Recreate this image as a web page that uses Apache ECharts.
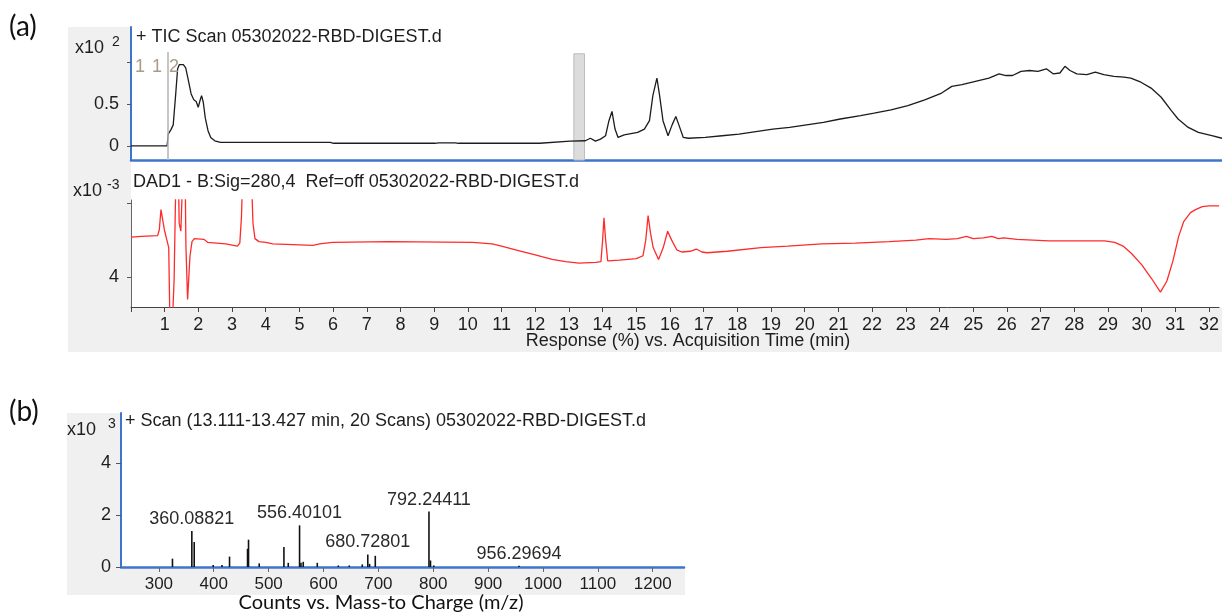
<!DOCTYPE html>
<html>
<head>
<meta charset="utf-8">
<script src="https://cdn.jsdelivr.net/npm/echarts@6/dist/echarts.min.js"></script>
<style>
  html, body { margin: 0; padding: 0; background: #ffffff; }
  #chart { width: 1222px; height: 613px; }
</style>
</head>
<body>
<div id="chart"></div>
<script>
// ---- TIC chromatogram (abundance, x10^2) ----
const ticTime = [0, 1.07, 1.10, 1.18, 1.25, 1.32, 1.38, 1.43, 1.48, 1.55, 1.62, 1.70, 1.78, 1.86, 1.93, 1.99, 2.05, 2.09, 2.14, 2.20, 2.28, 2.36, 2.48, 2.65,
  3.0, 5.9, 6.0, 9.0, 9.1, 9.6, 9.7, 12.1, 12.15, 13.0, 13.45, 13.6, 13.75, 13.9, 14.05, 14.15, 14.24, 14.33, 14.42, 14.6, 15.0, 15.2, 15.35, 15.45, 15.57,
  15.65, 15.75, 15.9, 16.02, 16.13, 16.22, 16.35, 16.5, 17.0, 17.5, 18.0, 18.5, 19.0, 19.5, 20.0, 20.5, 21.0, 21.6, 22.0, 22.5, 23.0, 23.5, 24.0, 24.3,
  24.6, 25.0, 25.4, 25.7, 25.9, 26.1, 26.35, 26.6, 26.85, 27.1, 27.3, 27.5, 27.65, 27.8, 28.0, 28.3, 28.55, 28.8, 29.1, 29.4, 29.6, 29.9, 30.2, 30.5,
  30.8, 31.0, 31.3, 31.6, 32.0, 32.3];
const ticAbund = [0, 0, 0.14, 0.19, 0.25, 0.60, 0.92, 0.97, 0.95, 0.97, 0.93, 0.78, 0.62, 0.55, 0.53, 0.46, 0.55, 0.60, 0.52, 0.33, 0.18, 0.10, 0.06, 0.04,
  0.04, 0.04, 0.03, 0.03, 0.035, 0.035, 0.03, 0.03, 0.05, 0.055, 0.06, 0.09, 0.055, 0.08, 0.12, 0.30, 0.41, 0.20, 0.10, 0.13, 0.16, 0.20, 0.30, 0.60, 0.81,
  0.60, 0.30, 0.12, 0.25, 0.35, 0.25, 0.10, 0.09, 0.10, 0.12, 0.14, 0.17, 0.20, 0.22, 0.25, 0.28, 0.32, 0.36, 0.39, 0.43, 0.48, 0.55, 0.63, 0.71,
  0.73, 0.77, 0.81, 0.86, 0.84, 0.84, 0.89, 0.90, 0.89, 0.92, 0.86, 0.87, 0.95, 0.90, 0.86, 0.85, 0.88, 0.85, 0.83, 0.82, 0.81, 0.76, 0.69, 0.58,
  0.42, 0.32, 0.22, 0.16, 0.12, 0.09];

// ---- DAD signal at 280 nm (x10^-3) ----
const dadTime = [0, 0.30, 0.79, 0.84, 0.89, 0.94, 0.99, 1.06, 1.12, 1.155, 1.23, 1.28, 1.33, 1.41, 1.43, 1.48, 1.53, 1.61, 1.63, 1.68, 1.75, 1.81, 1.88,
  2.17, 2.27, 2.81, 3.16, 3.23, 3.28, 3.31, 3.58, 3.62, 3.68, 3.80, 4.0, 4.21, 5.4, 5.6, 5.98, 7.67, 10.14, 10.72, 11.0, 11.5, 12.0, 12.5, 12.9, 13.3,
  13.8, 13.95, 14.0, 14.04, 14.09, 14.15, 14.5, 15.0, 15.2, 15.28, 15.35, 15.42, 15.5, 15.66, 15.8, 15.93, 16.05, 16.2, 16.35, 16.6, 16.78, 16.95, 17.1,
  17.7, 18.7, 19.5, 20.5, 21.5, 22.5, 23.3, 23.7, 24.2, 24.53, 24.8, 25.0, 25.3, 25.55, 25.75, 25.9, 26.3, 27.25, 28.0, 28.9, 29.2, 29.45, 29.7, 30.0,
  30.3, 30.56, 30.75, 30.93, 31.1, 31.25, 31.45, 31.6, 31.8, 32.0, 32.3];
const dadAbs = [4.54, 4.55, 4.56, 4.64, 4.91, 4.89, 4.64, 4.51, 4.40, 3.40, 3.40, 3.97, 5.30, 5.30, 4.73, 4.62, 5.30, 5.30, 4.42, 3.70, 4.28, 4.48, 4.52,
  4.51, 4.47, 4.45, 4.42, 4.46, 4.82, 5.30, 5.30, 4.73, 4.52, 4.48, 4.47, 4.45, 4.43, 4.45, 4.47, 4.48, 4.47, 4.45, 4.42, 4.36, 4.30, 4.24, 4.21, 4.19,
  4.20, 4.21, 4.50, 4.80, 4.50, 4.22, 4.23, 4.25, 4.29, 4.50, 4.83, 4.60, 4.40, 4.24, 4.40, 4.62, 4.50, 4.37, 4.34, 4.35, 4.38, 4.34, 4.33,
  4.35, 4.40, 4.42, 4.45, 4.46, 4.48, 4.50, 4.52, 4.51, 4.52, 4.55, 4.52, 4.53, 4.55, 4.52, 4.53, 4.51, 4.49, 4.49, 4.49, 4.47, 4.42, 4.32, 4.17,
  3.98, 3.80, 3.95, 4.22, 4.55, 4.75, 4.87, 4.91, 4.95, 4.96, 4.96];

// ---- Mass spectrum, 13.111-13.427 min (counts, x10^3) ----
const specMz = [324.8, 360.08821, 364.4, 399.0, 415.0, 428.8, 461.6, 463.4, 482.9, 527.9, 535.8, 556.40101, 559.0, 563.1, 588.7, 627.0, 647.0,
  670.7, 680.72801, 684.0, 694.4, 792.24411, 795.0, 801.0, 956.29694];
const specCounts = [0.32, 1.38, 0.96, 0.08, 0.08, 0.40, 0.70, 1.05, 0.14, 0.77, 0.16, 1.60, 0.16, 0.20, 0.16, 0.06, 0.06,
  0.10, 0.48, 0.12, 0.43, 2.13, 0.25, 0.06, 0.05];
const labelledMz = [360.08821, 556.40101, 680.72801, 792.24411, 956.29694];

// ---- Axis ticks ----
const timeTicks = [0, 1, 2, 3, 4, 5, 6, 7, 8, 9, 10, 11, 12, 13, 14, 15, 16, 17, 18, 19, 20, 21, 22, 23, 24, 25, 26, 27, 28, 29, 30, 31, 32];
const ticTicks = [0, 0.5, 1];
const ticLabels = [0, 0.5];
const dadTicks = [4, 5];
const dadLabels = [4];
const mzTicks = [300, 400, 500, 600, 700, 800, 900, 1000, 1100, 1200];
const countTicks = [0, 2, 4];

const BLUE = '#3f74cc';
const SANS = "'Liberation Sans', Arial, sans-serif";
const CAP = "Lato, 'Open Sans', sans-serif";

const ticData = ticTime.map((t, i) => [t, ticAbund[i]]);
const dadData = dadTime.map((t, i) => [t, dadAbs[i]]);
const specData = specMz.map((m, i) => [m, specCounts[i]]);

// plain number text, no thousands separators
const plain = v => String(v);

function txt(x, y, text, size, opts) {
  opts = opts || {};
  return {
    type: 'text', x: x, y: y, z: 100, silent: true,
    style: {
      text: text,
      font: (opts.weight || 'normal') + ' ' + size + 'px ' + (opts.family || SANS),
      fill: opts.fill || '#1e1e1e',
      align: opts.align || 'left',
      verticalAlign: 'middle'
    }
  };
}
function rect(x, y, w, h, fill) {
  return { type: 'rect', z: -100, silent: true, shape: { x: x, y: y, width: w, height: h }, style: { fill: fill } };
}

const chart = echarts.init(document.getElementById('chart'), null, { renderer: 'canvas' });

chart.setOption({
  animation: false,
  backgroundColor: '#ffffff',
  grid: [
    { left: 131, right: 0, top: 27, height: 133 },
    { left: 131, right: 0, top: 200, height: 107 },
    { left: 121, top: 413, width: 563, height: 154 }
  ],
  xAxis: [
    {
      gridIndex: 0, type: 'value', min: 0, max: 32.3,
      axisLine: { onZero: false, lineStyle: { color: BLUE, width: 2.5 } },
      axisTick: { show: false }, axisLabel: { show: false }, splitLine: { show: false }
    },
    {
      gridIndex: 1, type: 'value', min: 0, max: 32.3,
      axisLine: { onZero: false, lineStyle: { color: '#444', width: 1 } },
      axisTick: { customValues: timeTicks, length: 5, lineStyle: { color: '#444' } },
      axisLabel: { customValues: timeTicks.slice(1), formatter: plain, fontSize: 18, fontFamily: SANS, color: '#1e1e1e', margin: 9 },
      splitLine: { show: false }
    },
    {
      gridIndex: 2, type: 'value', min: 231, max: 1257,
      axisLine: { onZero: false, lineStyle: { color: BLUE, width: 2.5 } },
      axisTick: { customValues: mzTicks, length: 5, lineStyle: { color: '#666' } },
      axisLabel: { customValues: mzTicks, formatter: plain, fontSize: 17, fontFamily: SANS, color: '#1e1e1e', margin: 9 },
      splitLine: { show: false }
    }
  ],
  yAxis: [
    {
      gridIndex: 0, type: 'value', min: -0.17, max: 1.42,
      axisLine: { show: true, onZero: false, lineStyle: { color: BLUE, width: 2 } },
      axisTick: { show: true, customValues: ticTicks, length: 4, lineStyle: { color: '#555' } },
      axisLabel: { customValues: ticLabels, formatter: plain, fontSize: 18, fontFamily: SANS, color: '#1e1e1e', margin: 12 },
      splitLine: { show: false }
    },
    {
      gridIndex: 1, type: 'value', min: 3.6, max: 5.04,
      axisLine: { show: true, onZero: false, lineStyle: { color: '#666', width: 1 } },
      axisTick: { show: true, customValues: dadTicks, length: 4, lineStyle: { color: '#555' } },
      axisLabel: { customValues: dadLabels, formatter: plain, fontSize: 18, fontFamily: SANS, color: '#1e1e1e', margin: 12 },
      splitLine: { show: false }
    },
    {
      gridIndex: 2, type: 'value', min: 0, max: 5.92,
      axisLine: { show: true, onZero: false, lineStyle: { color: BLUE, width: 2 } },
      axisTick: { show: true, customValues: countTicks, length: 5, lineStyle: { color: '#555' } },
      axisLabel: { customValues: countTicks, formatter: plain, fontSize: 18, fontFamily: SANS, color: '#1e1e1e', margin: 10 },
      splitLine: { show: false }
    }
  ],
  series: [
    {
      name: 'TIC', type: 'line', xAxisIndex: 0, yAxisIndex: 0, data: ticData,
      showSymbol: false, symbol: 'none', lineStyle: { color: '#1c1c1c', width: 1.3 },
      markArea: {
        silent: true,
        itemStyle: { color: '#dcdcdc', borderColor: '#bdbdbd', borderWidth: 1 },
        data: [[{ xAxis: 13.111, yAxis: -0.17 }, { xAxis: 13.427, yAxis: 1.1 }]]
      },
      markLine: {
        silent: true, symbol: ['none', 'none'], label: { show: false },
        lineStyle: { color: '#b3b3b3', width: 1.5, type: 'solid' },
        data: [[{ coord: [1.08, -0.17] }, { coord: [1.08, 1.12] }]]
      }
    },
    {
      name: 'DAD1', type: 'line', xAxisIndex: 1, yAxisIndex: 1, data: dadData,
      showSymbol: false, symbol: 'none', lineStyle: { color: '#ff2b2b', width: 1.3 }
    },
    {
      name: 'Scan', type: 'bar', xAxisIndex: 2, yAxisIndex: 2, data: specData,
      barWidth: 1.6, itemStyle: { color: '#111' },
      label: {
        show: true, position: 'top', distance: 3,
        fontSize: 18, fontFamily: SANS, color: '#2a2a2a',
        formatter: p => labelledMz.indexOf(p.value[0]) >= 0 ? p.value[0].toFixed(5) : ''
      }
    }
  ],
  graphic: [
    rect(68, 27, 1154, 325, '#f0f0f0'),
    rect(131, 27, 1091, 281, '#ffffff'),
    rect(67, 413, 618, 182, '#f0f0f0'),
    rect(121, 413, 564, 154, '#ffffff'),

    txt(9, 27, '(a)', 28, { family: CAP, fill: '#111' }),
    txt(9, 412, '(b)', 28, { family: CAP, fill: '#111' }),

    txt(75, 48, 'x10', 18),
    txt(112, 42, '2', 14),
    txt(136, 37, '+ TIC Scan 05302022-RBD-DIGEST.d', 18),
    txt(140, 67, '1', 18, { align: 'center', fill: '#a99b88' }),
    txt(157, 67, '1', 18, { align: 'center', fill: '#a99b88' }),
    txt(174, 67, '2', 18, { align: 'center', fill: '#a99b88' }),

    txt(73, 191, 'x10', 18),
    txt(107, 185, '-3', 14),
    txt(133, 182, 'DAD1 - B:Sig=280,4  Ref=off 05302022-RBD-DIGEST.d', 18),
    txt(688, 341, 'Response (%) vs. Acquisition Time (min)', 18, { align: 'center' }),

    txt(67, 430, 'x10', 18),
    txt(108, 424, '3', 14),
    txt(125, 421, '+ Scan (13.111-13.427 min, 20 Scans) 05302022-RBD-DIGEST.d', 18),
    txt(381, 603, 'Counts vs. Mass-to Charge (m/z)', 20, { family: CAP, align: 'center', fill: '#111' })
  ]
});
</script>
</body>
</html>
